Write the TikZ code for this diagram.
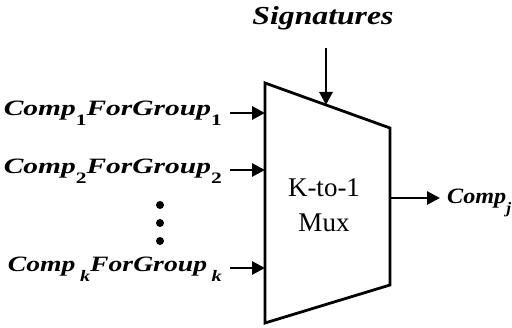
\documentclass[tikz,border=0pt]{standalone}
\usepackage{fontspec}
\setmainfont{Liberation Serif}
\usetikzlibrary{arrows.meta}
% wide bold-italic label text (given width and height) and lowered subscripts
\newcommand\widetext[3]{\resizebox{#1}{#2}{#3}}
\newcommand\lowsub[1]{\raisebox{-0.42em}{\fontsize{16}{16}\selectfont #1}}
\newcommand\lowdigit[1]{\lowsub{\upshape #1}}
\begin{document}
\begin{tikzpicture}[x=1pt,y=-1pt,
  wire/.style={line width=2.8pt},
  sig/.style={wire,-{Triangle[length=13pt,width=13pt]}},
  lbl/.style={font=\fontsize{22}{26}\selectfont\bfseries\itshape, inner sep=0pt},
  muxtext/.style={font=\fontsize{27}{35}\selectfont, align=center, inner sep=0pt},
  dot/.style={fill=black, circle, inner sep=0pt, minimum size=8pt}]
\useasboundingbox (0,0) rectangle (512,328);

% multiplexer body
\coordinate (tl) at (265,83);
\coordinate (tr) at (390,128);
\coordinate (br) at (390,285);
\coordinate (bl) at (265,323);
\draw[wire, line join=miter] (tl) -- (tr) -- (br) -- (bl) -- cycle;
\node[muxtext] (mux) at (324,205) {K-to-1\\Mux};

% select input
\node[lbl, anchor=base] (signatures) at (323,25) {\widetext{141pt}{18pt}{Signatures}};
\coordinate (selsrc) at (326,48);
\coordinate (selin) at (326,105);
\draw[sig] (selsrc) -- (selin);

% data inputs
\node[lbl, anchor=base east] (in1) at (222,116)
  {\widetext{218pt}{14.5pt}{Comp\lowdigit{1}ForGroup\lowdigit{1}}};
\node[lbl, anchor=base east] (in2) at (222,174)
  {\widetext{218pt}{14.5pt}{Comp\lowdigit{2}ForGroup\lowdigit{2}}};
\node[lbl, anchor=base east] (ink) at (222,272)
  {\widetext{214pt}{14.5pt}{Comp\,\lowsub{k}ForGroup\,\lowsub{k}}};
\coordinate (p1) at (265,113);
\coordinate (p2) at (265,170);
\coordinate (pk) at (265,268);
\coordinate (s1) at (230,113);
\coordinate (s2) at (230,170);
\coordinate (sk) at (230,268);
\draw[sig] (s1) -- (p1);
\draw[sig] (s2) -- (p2);
\draw[sig] (sk) -- (pk);

\node[dot] (d1) at (160,205) {};
\node[dot] (d2) at (160,223) {};
\node[dot] (d3) at (160,241) {};

% output
\coordinate (pout) at (390,198);
\node[lbl, anchor=base west] (out) at (447,204) {\widetext{64pt}{14.5pt}{Comp\lowsub{j}}};
\coordinate (outtip) at (440,198);
\draw[sig] (pout) -- (outtip);
\end{tikzpicture}
\end{document}
